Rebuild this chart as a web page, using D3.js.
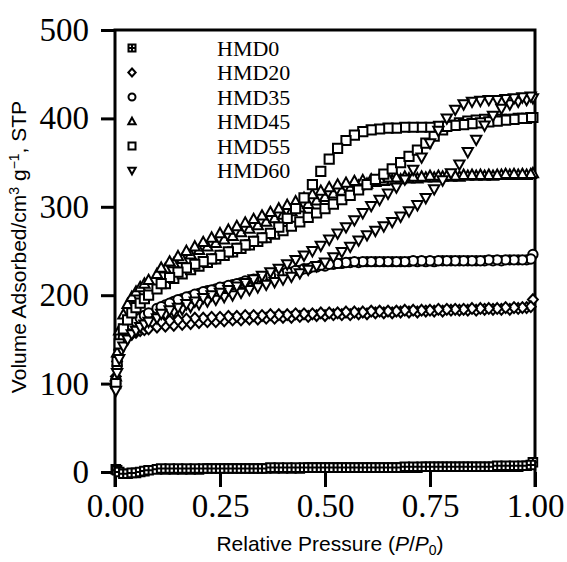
<!DOCTYPE html>
<html><head><meta charset="utf-8">
<script src="https://cdn.jsdelivr.net/npm/d3@7"></script>
<style>body{margin:0;background:#fff}svg{display:block}</style>
</head><body><svg id="c" width="567" height="562"></svg>
<script>
const seriesNames = ["HMD0","HMD20","HMD35","HMD45","HMD55","HMD60"];
const xTicks = [0, 0.25, 0.5, 0.75, 1.0];
const yTicks = [0, 100, 200, 300, 400, 500];

// relative pressure of adsorption points
const pAds = [0.002,0.005,0.01,0.02,0.03,0.04,0.05,0.06,0.07,0.08,
  0.10,0.12,0.14,0.16,0.18,0.20,0.22,0.24,0.26,0.28,
  0.30,0.32,0.34,0.36,0.38,0.40,0.42,0.44,0.46,0.48,
  0.50,0.52,0.54,0.56,0.58,0.60,0.62,0.64,0.66,0.68,
  0.70,0.72,0.74,0.76,0.78,0.80,0.82,0.84,0.86,0.88,
  0.90,0.92,0.94,0.96,0.98,0.995];
// relative pressure of desorption points
const pDes = [0.99,0.97,0.95,0.93,0.91,0.89,0.87,0.85,0.83,0.81,
  0.79,0.77,0.75,0.73,0.71,0.69,0.67,0.65,0.63,0.61,
  0.59,0.57,0.55,0.53,0.51,0.49,0.47,0.45,0.43,0.41,
  0.39,0.37,0.35,0.33,0.31,0.29,0.27,0.25,0.23,0.21,
  0.19,0.17,0.15,0.13,0.11];

const adsHMD0 = [3,2,0,-2,-2,-1,-1,0,1,2, 3,3,3,3,3,3,4,4,4,4, 4,4,4,4,4,4,4,4,5,5,
  5,5,5,5,5,5,5,5,5,5, 5,5,6,6,6,6,6,6,6,6, 6,6,6,6,7,11];
const desHMD0 = [8,7,7,7,7,6,6,6,6,6, 6,6,6,6,6,6,5,5,5,5, 5,5,5,5,5,5,5,5,5,5,
  5,5,4,4,4,4,4,4,4,4, 4,4,4,4,4];

const adsHMD20 = [108,125,138,148,153,156,158,160,161,162, 164,165,166,167,168,169,170,170,171,172,
  172,173,173,174,174,175,175,176,176,177, 177,178,178,178,179,179,180,180,180,181,
  181,181,182,182,182,183,183,183,183,184, 184,184,184,185,186,195];
const desHMD20 = [187,186,186,186,185,185,185,185,184,184, 184,184,183,183,183,183,182,182,182,182,
  181,181,181,180,180,180,179,179,179,178, 178,178,177,177,177,176,176,175,175,174,
  174,173,172,171,170];

const adsHMD35 = [100,120,138,152,160,166,170,174,177,180, 185,189,193,196,199,202,205,207,209,212,
  214,216,218,220,222,224,226,228,230,232, 233,235,236,237,237,238,238,238,238,238,
  238,238,238,238,239,239,239,239,239,239, 239,239,240,240,240,246];
const desHMD35 = [241,240,240,240,240,240,239,239,239,239, 239,239,239,239,239,238,238,238,238,238,
  238,238,237,236,235,234,232,230,228,226, 224,222,220,218,216,213,211,209,206,204,
  201,198,195,191,187];

const adsHMD45 = [108,135,160,178,190,198,204,209,213,217, 224,230,236,241,246,251,255,259,263,267,
  271,275,279,283,287,291,295,299,303,307, 311,315,318,321,324,326,328,329,330,331,
  332,332,333,333,334,334,334,335,335,335, 335,336,336,336,336,338];
const desHMD45 = [337,337,337,337,336,336,336,336,336,335, 335,335,335,334,334,334,333,333,332,331,
  330,329,327,325,322,318,314,310,306,302, 298,294,290,286,282,278,274,270,265,260,
  255,250,244,238,231];

const adsHMD55 = [100,125,145,162,172,180,186,191,196,200, 207,213,219,224,229,233,237,241,245,249,
  253,257,261,265,269,273,278,283,288,293, 298,303,308,313,319,325,331,337,343,350,
  357,364,372,380,387,392,395,397,398,399, 399,399,399,400,400,401];
const desHMD55 = [401,400,399,398,397,396,395,394,393,392, 391,391,390,390,390,390,389,389,388,387,
  385,381,375,366,354,340,325,310,298,287, 277,270,265,261,257,253,249,245,241,238,
  235,231,226,220,213];

const adsHMD60 = [92,112,128,142,150,156,160,164,167,170, 174,178,181,184,187,190,193,195,198,200,
  203,206,209,212,215,218,221,225,229,233, 237,243,249,255,262,268,273,278,283,289,
  295,302,310,320,330,338,348,362,376,392, 403,411,416,419,421,423];
const desHMD60 = [425,424,423,422,421,421,420,419,416,410, 400,386,372,356,342,331,322,315,308,301,
  293,285,277,270,263,256,250,245,240,235, 230,226,222,218,214,210,206,203,200,197,
  193,190,186,183,179];

const adsAll = [adsHMD0, adsHMD20, adsHMD35, adsHMD45, adsHMD55, adsHMD60];
const desAll = [desHMD0, desHMD20, desHMD35, desHMD45, desHMD55, desHMD60];

const svg = d3.select("#c");
const x = d3.scaleLinear().domain([0, 1]).range([115, 535]);
const y = d3.scaleLinear().domain([0, 500]).range([472, 30]);
const bottomY = 487;
const serif = "'Liberation Serif','Times New Roman',Times,serif";
const sans = "'Liberation Sans',Arial,Helvetica,sans-serif";

// marker path generators
function shapePath(kind, r) {
  switch (kind) {
    case "sqcross": return `M${-r},${-r}H${r}V${r}H${-r}Z M0,${-r}V${r} M${-r},0H${r}`;
    case "diamond": return `M0,${-r*1.15}L${r*1.05},0L0,${r*1.15}L${-r*1.05},0Z`;
    case "circle": return `M${r},0A${r},${r} 0 1,1 ${-r},0A${r},${r} 0 1,1 ${r},0Z`;
    case "triup": return `M0,${-r*1.1}L${r*1.05},${r*0.8}L${-r*1.05},${r*0.8}Z`;
    case "square": return `M${-r},${-r}H${r}V${r}H${-r}Z`;
    case "tridown": return `M0,${r*1.1}L${r*1.05},${-r*0.8}L${-r*1.05},${-r*0.8}Z`;
  }
}
const shapes = ["sqcross","diamond","circle","triup","square","tridown"];
const dataR = [4.3, 4.7, 4.7, 4.9, 4.6, 4.9];

// frame
svg.append("path")
  .attr("d", `M${x(0)},${bottomY}V${y(500)}H${x(1)}V${bottomY}`)
  .attr("fill", "none").attr("stroke", "#000").attr("stroke-width", 3);

// y axis
const yAxis = d3.axisLeft(y).tickValues(yTicks).tickSize(14).tickPadding(12).tickFormat(d3.format("d"));
const gy = svg.append("g").attr("transform", `translate(${x(0)},0)`).call(yAxis);
gy.select(".domain").remove();
gy.selectAll(".tick line").attr("stroke", "#000").attr("stroke-width", 3);
gy.selectAll(".tick text").attr("font-family", serif).attr("font-size", 33).attr("fill", "#000");

// x axis (ticks pointing up from the bottom)
const xAxis = d3.axisBottom(x).tickValues(xTicks).tickSizeInner(-15).tickSizeOuter(0).tickPadding(7).tickFormat(d3.format(".2f"));
const gx = svg.append("g").attr("transform", `translate(0,${bottomY})`).call(xAxis);
gx.select(".domain").remove();
gx.selectAll(".tick line").attr("stroke", "#000").attr("stroke-width", 3);
gx.selectAll(".tick text").attr("font-family", serif).attr("font-size", 33).attr("fill", "#000");

// data
const gd = svg.append("g");
seriesNames.forEach((name, i) => {
  const pts = pAds.map((p, j) => [p, adsAll[i][j]])
    .concat(pDes.map((p, j) => [p, desAll[i][j]]));
  gd.append("g").attr("class", "s-" + name)
    .selectAll("path").data(pts).join("path")
    .attr("transform", d => `translate(${x(d[0])},${y(d[1])})`)
    .attr("d", shapePath(shapes[i], dataR[i]))
    .attr("fill", "#fff").attr("stroke", "#000").attr("stroke-width", 2);
});

// legend
const legY = [48, 72.5, 97, 121.5, 146, 170.5];
const lg = svg.append("g");
seriesNames.forEach((name, i) => {
  lg.append("path").attr("transform", `translate(132,${legY[i]})`)
    .attr("d", shapePath(shapes[i], 3.5))
    .attr("fill", "#fff").attr("stroke", "#000").attr("stroke-width", 2);
  lg.append("text").attr("x", 217).attr("y", legY[i]).attr("dy", "0.35em")
    .attr("font-family", serif).attr("font-size", 22).attr("fill", "#000").text(name);
});

// axis titles
const xt = svg.append("text").attr("x", 330).attr("y", 551).attr("text-anchor", "middle")
  .attr("font-family", sans).attr("font-size", 21).attr("fill", "#000");
xt.append("tspan").text("Relative Pressure (");
xt.append("tspan").attr("font-style", "italic").text("P");
xt.append("tspan").text("/");
xt.append("tspan").attr("font-style", "italic").text("P");
xt.append("tspan").attr("font-size", 14).attr("dy", 4).text("0");
xt.append("tspan").attr("dy", -4).text(")");

const yt = svg.append("text").attr("transform", "translate(26,247) rotate(-90)")
  .attr("text-anchor", "middle").attr("font-family", sans).attr("font-size", 21).attr("fill", "#000");
yt.append("tspan").text("Volume Adsorbed/cm");
yt.append("tspan").attr("font-size", 14).attr("dy", -7).text("3");
yt.append("tspan").attr("dy", 7).text(" g");
yt.append("tspan").attr("font-size", 14).attr("dy", -7).text("\u22121");
yt.append("tspan").attr("dy", 7).text(", STP");
</script>
</body></html>
